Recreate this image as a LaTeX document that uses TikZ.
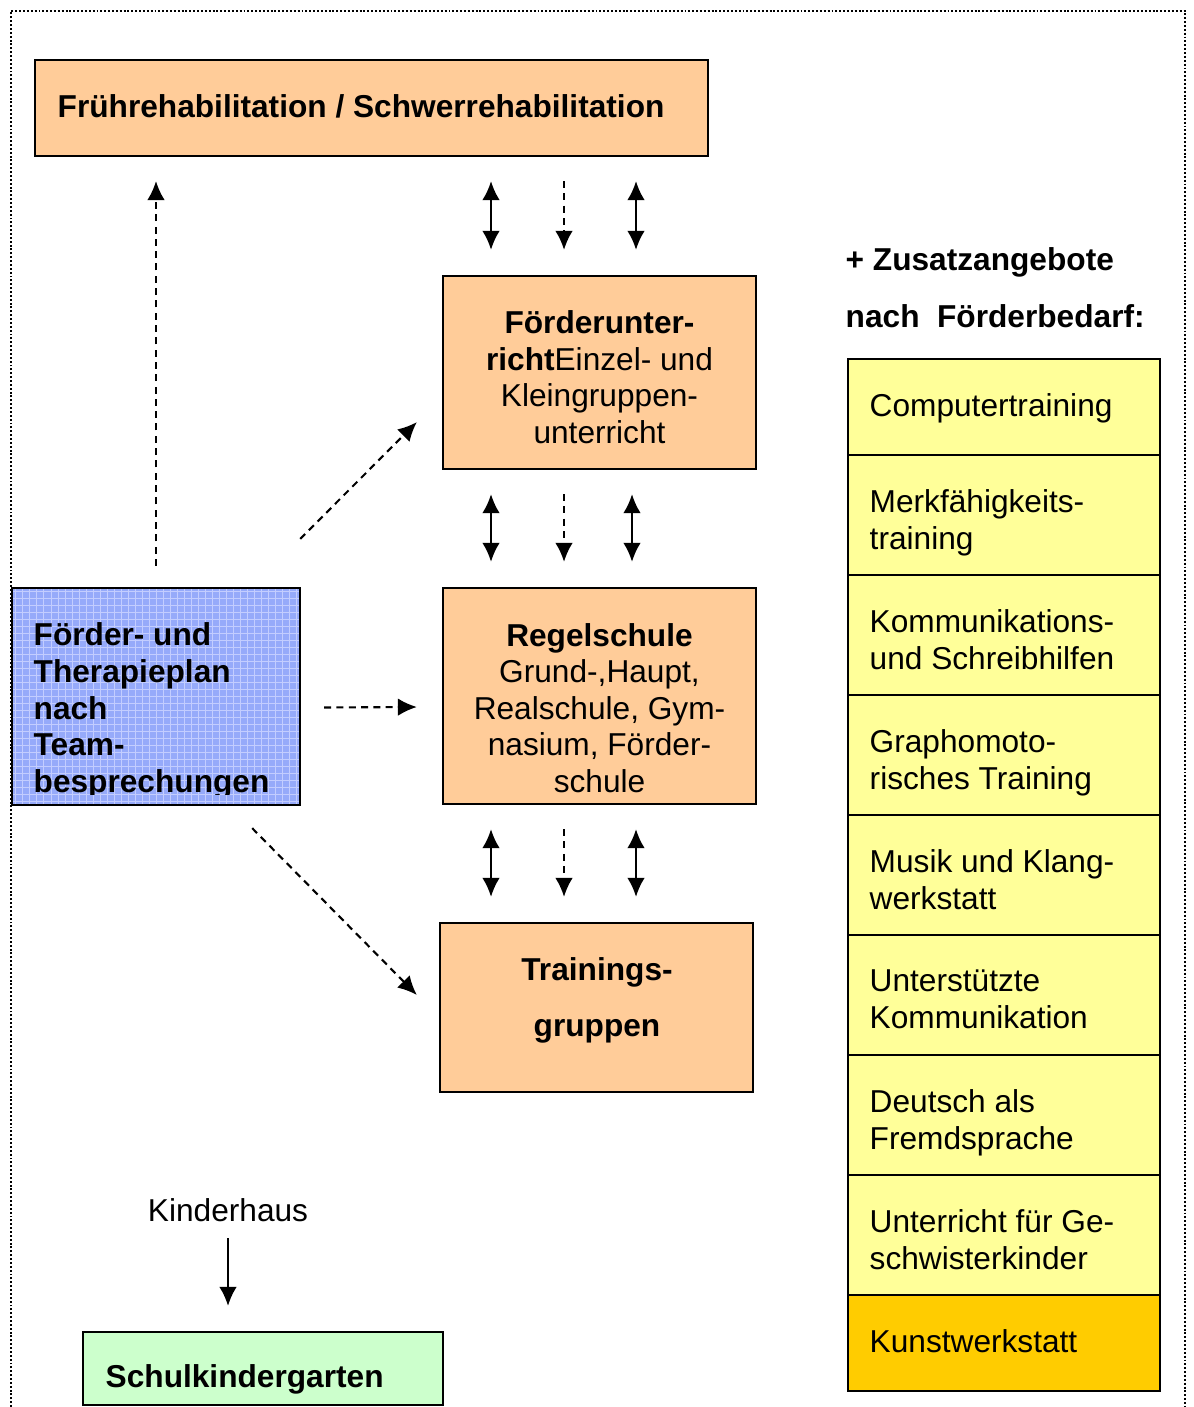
\documentclass[tikz,border=0pt]{standalone}
\usepackage{fontspec}
\setmainfont{Liberation Sans}
\usepackage{tikz}
\usetikzlibrary{arrows.meta}
\tikzset{>={Latex[length=5.4pt, width=5pt]}}
\definecolor{pfirsich}{HTML}{FFCC99}
\definecolor{hellgelb}{HTML}{FFFF99}
\definecolor{goldgelb}{HTML}{FFCC00}
\definecolor{hellgruen}{HTML}{CCFFCC}
\definecolor{planblau}{RGB}{150,170,250}
\definecolor{gitterblau}{RGB}{195,205,255}
\tikzset{
	kasten/.style={draw, line width=.6pt, inner sep=0pt},
	pfeil/.style={line width=.65pt},
	strich/.style={line width=.6pt, dash pattern=on 2pt off 1.5pt},
	schrift/.style={inner sep=0pt, font=\fontsize{9}{10.4}\selectfont},
	fett/.style={inner sep=0pt, font=\fontsize{9}{10.4}\selectfont\bfseries}
}

\begin{document}
\begin{tikzpicture}[x=0.01cm, y=-0.01cm]
    \useasboundingbox (0,0) rectangle (1193,1407);
    \draw[line width=.5pt, dash pattern=on .55pt off .55pt](11,1407)--(11,11)--(1185,11)--(1185,1407);
    % Kaesten
    \node[kasten, fill=pfirsich, minimum width=6.73cm, minimum height=.96cm](frueh) at(371.5, 108){};
    \node[kasten, fill=pfirsich, minimum width=3.13cm, minimum height=1.93cm](foerder) at(599.5, 372.5){};
    \node[kasten, fill=pfirsich, minimum width=3.13cm, minimum height=2.16cm](regel) at(599.5, 696){};
    \node[kasten, fill=pfirsich, minimum width=3.13cm, minimum height=1.69cm](train) at(596.5, 1007.5){};
    \node[kasten, fill=planblau, minimum width=2.88cm, minimum height=2.17cm,
        path picture={\draw[gitterblau, line width=.25pt, step=.7mm](path picture bounding box.south west) grid (path picture bounding box.north east);}](plan) at(156, 696.5){};
    \node[kasten, fill=hellgruen, minimum width=3.6cm, minimum height=.73cm](skg) at(263, 1368.5){};
    % Texte
    \node[fett, anchor=west](frueh-t) at(57, 106){Frührehabilitation / Schwerrehabilitation};
    \node[schrift, align=center](foerder-t) at(599.5, 377){\textbf{Förderunter-}\\\textbf{richt}Einzel- und\\Kleingruppen-\\unterricht};
    \node[schrift, align=center](regel-t) at(599.5, 708){\textbf{Regelschule}\\Grund-,Haupt,\\Realschule, Gym-\\nasium, Förder-\\schule};
    \node[fett, align=center, font=\fontsize{9}{15.9}\selectfont\bfseries](train-t) at(597, 1000){Trainings-\\gruppen};
    \begin{scope}
        \clip(12, 588) rectangle (300, 794);
        \node[fett, align=left, anchor=west](plan-t) at(33, 711){Förder- und\\Therapieplan\\nach\\Team-\\besprechungen};
    \end{scope}
    \node[fett, anchor=west](zusatz) at(845, 262){+ Zusatzangebote};
    \node[fett, anchor=west](bedarf) at(845, 316){nach~~Förderbedarf:};
    \node[fett, anchor=west](skg-t) at(105, 1379){Schulkindergarten};
    \node[schrift](kinder) at(228, 1210){Kinderhaus};
    % Zusatzangebote
    \foreach \n/\o/\u/\f/\t in {a1/359/455/hellgelb/{Computertraining},
        a2/455/575/hellgelb/{Merkfähigkeits-\\training},
        a3/575/695/hellgelb/{Kommunikations-\\und Schreibhilfen},
        a4/695/815/hellgelb/{Graphomoto-\\risches Training},
        a5/815/935/hellgelb/{Musik und Klang-\\werkstatt},
        a6/935/1055/hellgelb/{Unterstützte\\Kommunikation},
        a7/1055/1175/hellgelb/{Deutsch als\\Fremdsprache},
        a8/1175/1295/hellgelb/{Unterricht für Ge-\\schwisterkinder},
        a9/1295/1391/goldgelb/{Kunstwerkstatt}}{
        \node[kasten, fill=\f, minimum width=3.12cm, minimum height={(\u-\o)*0.01cm}](\n) at(1004, {(\o+\u)/2}){};
        \node[schrift, align=left, anchor=north west](\n-t) at(869, \o+34){\t};
    }
    % Pfeile
    \coordinate(s1) at(491, 0);
    \coordinate(s2) at(564, 0);
    \foreach \a/\b/\r in {frueh/foerder/636, foerder/regel/632, regel/train/636}{
        \coordinate(s3) at(\r, 0);
        \draw[pfeil, <->, shorten <=.24cm, shorten >=.25cm](\a.south -| s1)--(\b.north -| s1);
        \draw[strich, ->, shorten <=.24cm, shorten >=.25cm](\a.south -| s2)--(\b.north -| s2);
        \draw[pfeil, <->, shorten <=.24cm, shorten >=.25cm](\a.south -| s3)--(\b.north -| s3);
    }
    \draw[strich, ->, shorten <=.21cm, shorten >=.24cm](plan.north)--(plan.north |- frueh.south);
    \draw[strich, ->]([shift={(-1,-48)}]plan.north east)--([shift={(-25,-48)}]foerder.south west);
    \draw[strich, ->]([shift={(23,11)}]plan.east)--([shift={(-25,11)}]regel.west);
    \draw[strich, ->]([shift={(-49,22)}]plan.south east)--([shift={(-22,-12.5)}]train.west);
    \draw[pfeil, ->, shorten >=.25cm]([yshift=-.16cm]kinder.south)--(kinder.south |- skg.north);
\end{tikzpicture}
\end{document}
